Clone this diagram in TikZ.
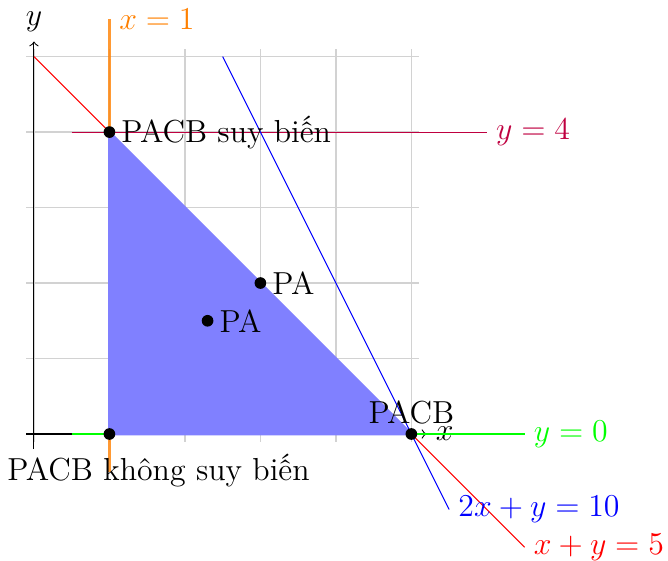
\documentclass[tikz,border=0pt]{standalone}
\usepackage{fontspec}
\usepackage{amsmath}
\usepackage{amssymb}

\begin{document}
\begin{tikzpicture}[every node/.style={font=\fontsize{12pt}{14pt}\selectfont},
    dot/.style={circle, fill=black, inner sep=0pt, minimum size=4.4pt}]
  \useasboundingbox (-0.45,-1.67) rectangle (8.4,5.75);

  % the grid and the axes
  \draw[gray!35, line width=0.5pt] (-0.1,-0.1) grid (5.1,5.1);
  \draw[->] (-0.1,0) -- (5.2,0) node[right] (xlab) {$x$};
  \draw[->] (0,-0.2) -- (0,5.2) node[above] (ylab) {$y$};

  % the constraint lines (ends as coordinates, so the labels can sit on them)
  \coordinate (a1) at (1,-0.5);
  \coordinate (a2) at (1,5.5);
  \coordinate (b1) at (0.5,4);
  \coordinate (b2) at (6,4);
  \coordinate (c1) at (0.5,0);
  \coordinate (c2) at (6.5,0);
  \coordinate (d1) at (0,5);
  \coordinate (d2) at (6.5,-1.5);
  \coordinate (e1) at (2.5,5);
  \coordinate (e2) at (5.5,-1);
  \draw[orange, line width=0.8pt, draw opacity=0.8] (a1) -- (a2) node[right] (la) {$x=1$};
  \draw[purple] (b1) -- (b2) node[right] (lb) {$y=4$};
  \draw[green] (c1) -- (c2) node[right] (lc) {$y=0$};
  \draw[red] (d1) -- (d2) node[right] (ld) {$x+y=5$};
  \draw[blue] (e1) -- (e2) node[right] (le) {$2x+y=10$};

  % the feasible set
  \filldraw[fill=blue!50, draw=blue!50, line width=1pt, line join=round]
    (1,0) -- (1,4) -- (5,0) -- cycle;

  % the points
  \node[dot] (p1) at (1,4) {};
  \node[dot] (p2) at (1,0) {};
  \node[dot] (p3) at (5,0) {};
  \node[dot] (p4) at (3,2) {};
  \node[dot] (p5) at (2.3,1.5) {};
  \node[right=1pt] (t1) at (p1) {PACB suy biến};
  \node (t2) at (1.65,-0.49) {PACB không suy biến};
  \node[above=0pt] (t3) at (p3) {PACB};
  \node[right=1pt] (t4) at (p4) {PA};
  \node[right=1pt] (t5) at (p5) {PA};
\end{tikzpicture}
\end{document}
